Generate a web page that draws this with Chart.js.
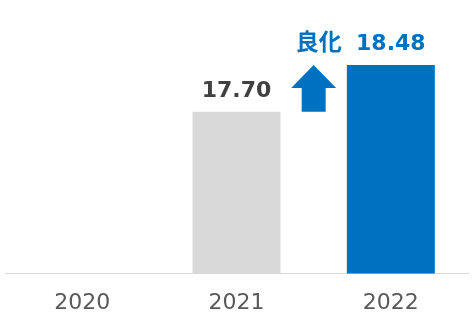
<!DOCTYPE html>
<html>
<head>
<meta charset="utf-8">
<script src="https://cdn.jsdelivr.net/npm/chart.js@4/dist/chart.umd.min.js"></script>
<style>
  html, body { margin: 0; padding: 0; background: #fff; }
  #wrap { width: 474px; height: 324px; }
</style>
</head>
<body>
<div id="wrap"><canvas id="meuGrafico"></canvas></div>
<script>
var anos = ['2020', '2021', '2022'];
var valores = [null, 17.70, 18.48];
var cores = ['#D9D9D9', '#D9D9D9', '#0070C0'];
var corTexto = ['#404040', '#404040', '#0070C0'];
var textoMelhora = '良化';

// rotulos de valor e seta "良化" desenhados a mao
var pluginRotulos = {
  id: 'rotulos',
  afterDatasetsDraw: function (chart) {
    var ctx = chart.ctx;
    var meta = chart.getDatasetMeta(0);
    var y = chart.scales.y;
    ctx.save();
    ctx.textAlign = 'center';
    ctx.textBaseline = 'alphabetic';
    meta.data.forEach(function (bar, i) {
      if (valores[i] == null) return;
      ctx.font = 'bold 22px "DejaVu Sans"';
      ctx.fillStyle = corTexto[i];
      ctx.fillText(valores[i].toFixed(2), bar.x, bar.y - 15);
    });

    // seta entre 2021 e 2022
    var b1 = meta.data[1], b2 = meta.data[2];
    var cx = ((b1.x + b1.width / 2) + (b2.x - b2.width / 2)) / 2;
    var topo = y.getPixelForValue(valores[2]);
    var base = y.getPixelForValue(valores[1]);
    var cabeca = 23, larg = 45, haste = 24;
    ctx.fillStyle = '#0070C0';
    ctx.beginPath();
    ctx.moveTo(cx, topo);
    ctx.lineTo(cx + larg / 2, topo + cabeca);
    ctx.lineTo(cx + haste / 2, topo + cabeca);
    ctx.lineTo(cx + haste / 2, base);
    ctx.lineTo(cx - haste / 2, base);
    ctx.lineTo(cx - haste / 2, topo + cabeca);
    ctx.lineTo(cx - larg / 2, topo + cabeca);
    ctx.closePath();
    ctx.fill();

    ctx.font = 'bold 23px "Noto Sans CJK JP"';
    ctx.textAlign = 'right';
    ctx.fillText(textoMelhora, cx + 28, b2.y - 15);
    ctx.restore();
  }
};

var ctx = document.getElementById('meuGrafico').getContext('2d');
var meuGrafico = new Chart(ctx, {
  type: 'bar',
  data: {
    labels: anos,
    datasets: [{
      data: valores,
      backgroundColor: cores,
      barPercentage: 0.57,
      categoryPercentage: 1
    }]
  },
  options: {
    responsive: true,
    maintainAspectRatio: false,
    animation: false,
    layout: { padding: { left: 5, right: 6, top: 4, bottom: 0 } },
    plugins: { legend: { display: false }, tooltip: { enabled: false } },
    scales: {
      x: {
        grid: { display: false },
        border: { display: true, color: '#D9D9D9', width: 1 },
        ticks: { color: '#595959', font: { family: 'DejaVu Sans', size: 22 }, padding: 8 }
      },
      y: {
        display: false,
        min: 15,
        max: 19.5
      }
    }
  },
  plugins: [pluginRotulos]
});
</script>
</body>
</html>
